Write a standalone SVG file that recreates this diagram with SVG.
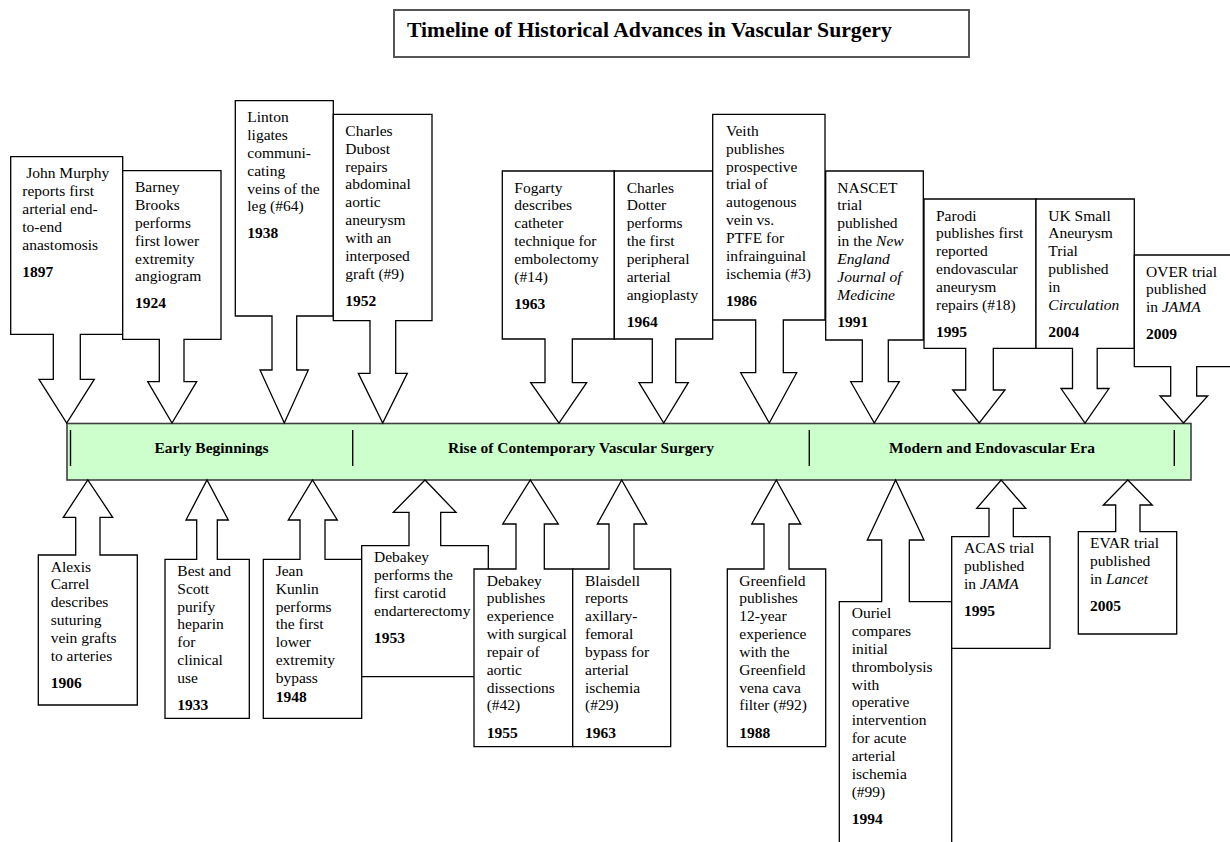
<svg xmlns="http://www.w3.org/2000/svg" width="1230" height="842" viewBox="0 0 1230 842">
<style>
.box{fill:#fff;stroke:#000;stroke-width:1.3}
.t{font-family:"Liberation Serif","Times New Roman",serif;font-size:15.5px;fill:#000}
.b{font-weight:bold}
.i{font-style:italic}
.tick{stroke:#000;stroke-width:1.4}
</style>
<rect width="1230" height="842" fill="#fff"/>
<g id="title">
<rect x="394" y="10" width="575" height="47" fill="#fff" stroke="#555" stroke-width="2"/>
<text x="407" y="37" class="t b" style="font-size:21.7px">Timeline of Historical Advances in Vascular Surgery</text>
</g>
<g id="timeline-bar">
<rect x="67" y="423.5" width="1124" height="56.5" fill="#ccffcc" stroke="#404040" stroke-width="1.6"/>
<line class="tick" x1="70.5" y1="430" x2="70.5" y2="466"/>
<line class="tick" x1="352.7" y1="430" x2="352.7" y2="466"/>
<line class="tick" x1="809.3" y1="430" x2="809.3" y2="466"/>
<line class="tick" x1="1174.3" y1="430" x2="1174.3" y2="466"/>
<text x="211.5" y="453.3" class="t b" text-anchor="middle">Early Beginnings</text>
<text x="581" y="453.3" class="t b" text-anchor="middle">Rise of Contemporary Vascular Surgery</text>
<text x="992" y="453.3" class="t b" text-anchor="middle">Modern and Endovascular Era</text>
</g>
<g id="connectors">
<path class="box" d="M10.7,156.7 H122.7 V334.3 H80.3 V379.3 H94.3 L66.7,423 L39,379.3 H53.3 V334.3 H10.7 Z"/>
<path class="box" d="M122.7,170.7 H221 V339.3 H184 V381.7 H196.7 L172,423 L147.7,381.7 H159.3 V339.3 H122.7 Z"/>
<path class="box" d="M235.3,100.7 H333.3 V316 H296.7 V370 H308.3 L284.3,423 L260,370 H272 V316 H235.3 Z"/>
<path class="box" d="M333.3,114.3 H432 V320.7 H395.7 V373.3 H407.3 L382.7,423 L358.3,373.3 H370 V320.7 H333.3 Z"/>
<path class="box" d="M502.3,171 H614.3 V339 H572.3 V382.7 H586.7 L559,423 L530.7,382.7 H545 V339 H502.3 Z"/>
<path class="box" d="M614.3,171 H712.7 V339 H675.7 V382.7 H688.3 L663.7,423 L639,382.7 H652.3 V339 H614.3 Z"/>
<path class="box" d="M712.7,114.3 H825 V320 H783.3 V372.7 H796.7 L769.3,423 L740.7,372.7 H755.7 V320 H712.7 Z"/>
<path class="box" d="M825.7,171 H923.3 V340 H888.3 V381.7 H899.3 L874.3,423 L850.7,381.7 H862.3 V340 H825.7 Z"/>
<path class="box" d="M924,199 H1036 V348.3 H993.3 V390 H1005 L979.3,423 L952.7,390 H965.7 V348.3 H924 Z"/>
<path class="box" d="M1036,199 H1134.3 V348.3 H1097.2 V388.5 H1109 L1085,423 L1061,388.5 H1072.5 V348.3 H1036 Z"/>
<path class="box" d="M1134.3,255 H1240 V366.7 H1196.7 V396 H1207.7 L1183.5,423 L1160,396 H1170.7 V366.7 H1134.3 Z"/>
<path class="box" d="M38.3,555 H75.7 V517.3 H63.3 L87.8,480 L112.7,517.3 H100 V555 H137.3 V705 H38.3 Z"/>
<path class="box" d="M165,559.3 H196.7 V520 H186 L207,480 L228.3,520 H217.3 V559.3 H249.3 V718.3 H165 Z"/>
<path class="box" d="M263.3,559.3 H300 V520 H288.3 L312.5,480 L337.3,520 H325 V559.3 H361.7 V718.3 H263.3 Z"/>
<path class="box" d="M361.7,545.7 H409 V512.3 H393.3 L425,480 L456,512.3 H440.7 V545.7 H488.3 V676.7 H361.7 Z"/>
<path class="box" d="M474,569 H516 V524 H502.7 L530.3,480 L558.3,524 H544.3 V569 H572.7 V746.7 H474 Z"/>
<path class="box" d="M572.7,569 H609 V524 H597.3 L621.7,480 L646.7,524 H634 V569 H670.7 V746.7 H572.7 Z"/>
<path class="box" d="M727.3,569 H764 V524 H751.7 L776.3,480 L800.7,524 H789 V569 H825.7 V746.7 H727.3 Z"/>
<path class="box" d="M839.3,601.7 H881.7 V540 H867.3 L895.6,480 L924,540 H909.3 V601.7 H951.7 V870 H839.3 Z"/>
<path class="box" d="M951.7,536.7 H989 V508.3 H976.7 L1001.2,480 L1025.7,508.3 H1013.3 V536.7 H1050 V648.3 H951.7 Z"/>
<path class="box" d="M1078.3,531.7 H1115.7 V505 H1103.3 L1127.8,480 L1152.3,505 H1140 V531.7 H1176.7 V634 H1078.3 Z"/>
</g>
<g id="n1897">
<text class="t" x="26.2" y="178.2">John Murphy<tspan x="22.3" dy="17.85">reports first</tspan><tspan x="22.3" dy="17.85">arterial end-</tspan><tspan x="22.3" dy="17.85">to-end</tspan><tspan x="22.3" dy="17.85">anastomosis</tspan></text>
<text class="t b" x="22.3" y="276.6">1897</text>
</g>
<g id="n1924">
<text class="t" x="135" y="192.2">Barney<tspan x="135" dy="17.85">Brooks</tspan><tspan x="135" dy="17.85">performs</tspan><tspan x="135" dy="17.85">first lower</tspan><tspan x="135" dy="17.85">extremity</tspan><tspan x="135" dy="17.85">angiogram</tspan></text>
<text class="t b" x="135" y="308.4">1924</text>
</g>
<g id="n1938">
<text class="t" x="247.3" y="122.2">Linton<tspan x="247.3" dy="17.85">ligates</tspan><tspan x="247.3" dy="17.85">communi-</tspan><tspan x="247.3" dy="17.85">cating</tspan><tspan x="247.3" dy="17.85">veins of the</tspan><tspan x="247.3" dy="17.85">leg (#64)</tspan></text>
<text class="t b" x="247.3" y="238.4">1938</text>
</g>
<g id="n1952">
<text class="t" x="345.3" y="135.8">Charles<tspan x="345.3" dy="17.85">Dubost</tspan><tspan x="345.3" dy="17.85">repairs</tspan><tspan x="345.3" dy="17.85">abdominal</tspan><tspan x="345.3" dy="17.85">aortic</tspan><tspan x="345.3" dy="17.85">aneurysm</tspan><tspan x="345.3" dy="17.85">with an</tspan><tspan x="345.3" dy="17.85">interposed</tspan><tspan x="345.3" dy="17.85">graft (#9)</tspan></text>
<text class="t b" x="345.3" y="306">1952</text>
</g>
<g id="n1963a">
<text class="t" x="514.3" y="192.5">Fogarty<tspan x="514.3" dy="17.85">describes</tspan><tspan x="514.3" dy="17.85">catheter</tspan><tspan x="514.3" dy="17.85">technique for</tspan><tspan x="514.3" dy="17.85">embolectomy</tspan><tspan x="514.3" dy="17.85">(#14)</tspan></text>
<text class="t b" x="514.3" y="308.7">1963</text>
</g>
<g id="n1964">
<text class="t" x="626.7" y="192.5">Charles<tspan x="626.7" dy="17.85">Dotter</tspan><tspan x="626.7" dy="17.85">performs</tspan><tspan x="626.7" dy="17.85">the first</tspan><tspan x="626.7" dy="17.85">peripheral</tspan><tspan x="626.7" dy="17.85">arterial</tspan><tspan x="626.7" dy="17.85">angioplasty</tspan></text>
<text class="t b" x="626.7" y="326.6">1964</text>
</g>
<g id="n1986">
<text class="t" x="726" y="135.8">Veith<tspan x="726" dy="17.85">publishes</tspan><tspan x="726" dy="17.85">prospective</tspan><tspan x="726" dy="17.85">trial of</tspan><tspan x="726" dy="17.85">autogenous</tspan><tspan x="726" dy="17.85">vein vs.</tspan><tspan x="726" dy="17.85">PTFE for</tspan><tspan x="726" dy="17.85">infrainguinal</tspan><tspan x="726" dy="17.85">ischemia (#3)</tspan></text>
<text class="t b" x="726" y="306">1986</text>
</g>
<g id="n1991">
<text class="t" x="837.3" y="192.5">NASCET<tspan x="837.3" dy="17.85">trial</tspan><tspan x="837.3" dy="17.85">published</tspan><tspan x="837.3" dy="17.85">in the <tspan class="i">New</tspan></tspan><tspan x="837.3" dy="17.85" class="i">England</tspan><tspan x="837.3" dy="17.85" class="i">Journal of</tspan><tspan x="837.3" dy="17.85" class="i">Medicine</tspan></text>
<text class="t b" x="837.3" y="326.6">1991</text>
</g>
<g id="n1995a">
<text class="t" x="936" y="220.5">Parodi<tspan x="936" dy="17.85">publishes first</tspan><tspan x="936" dy="17.85">reported</tspan><tspan x="936" dy="17.85">endovascular</tspan><tspan x="936" dy="17.85">aneurysm</tspan><tspan x="936" dy="17.85">repairs (#18)</tspan></text>
<text class="t b" x="936" y="336.7">1995</text>
</g>
<g id="n2004">
<text class="t" x="1048.3" y="220.5">UK Small<tspan x="1048.3" dy="17.85">Aneurysm</tspan><tspan x="1048.3" dy="17.85">Trial</tspan><tspan x="1048.3" dy="17.85">published</tspan><tspan x="1048.3" dy="17.85">in</tspan><tspan x="1048.3" dy="17.85" class="i">Circulation</tspan></text>
<text class="t b" x="1048.3" y="336.7">2004</text>
</g>
<g id="n2009">
<text class="t" x="1146" y="276.5">OVER trial<tspan x="1146" dy="17.85">published</tspan><tspan x="1146" dy="17.85">in <tspan class="i">JAMA</tspan></tspan></text>
<text class="t b" x="1146" y="339.2">2009</text>
</g>
<g id="n1906">
<text class="t" x="50.7" y="571.5">Alexis<tspan x="50.7" dy="17.85">Carrel</tspan><tspan x="50.7" dy="17.85">describes</tspan><tspan x="50.7" dy="17.85">suturing</tspan><tspan x="50.7" dy="17.85">vein grafts</tspan><tspan x="50.7" dy="17.85">to arteries</tspan></text>
<text class="t b" x="50.7" y="687.8">1906</text>
</g>
<g id="n1933">
<text class="t" x="177.3" y="575.8">Best and<tspan x="177.3" dy="17.85">Scott</tspan><tspan x="177.3" dy="17.85">purify</tspan><tspan x="177.3" dy="17.85">heparin</tspan><tspan x="177.3" dy="17.85">for</tspan><tspan x="177.3" dy="17.85">clinical</tspan><tspan x="177.3" dy="17.85">use</tspan></text>
<text class="t b" x="177.3" y="709.9">1933</text>
</g>
<g id="n1948">
<text class="t" x="275.7" y="575.8">Jean<tspan x="275.7" dy="17.85">Kunlin</tspan><tspan x="275.7" dy="17.85">performs</tspan><tspan x="275.7" dy="17.85">the first</tspan><tspan x="275.7" dy="17.85">lower</tspan><tspan x="275.7" dy="17.85">extremity</tspan><tspan x="275.7" dy="17.85">bypass</tspan></text>
<text class="t b" x="275.7" y="701.9">1948</text>
</g>
<g id="n1953">
<text class="t" x="374" y="562.2">Debakey<tspan x="374" dy="17.85">performs the</tspan><tspan x="374" dy="17.85">first carotid</tspan><tspan x="374" dy="17.85">endarterectomy</tspan></text>
<text class="t b" x="374" y="642.8">1953</text>
</g>
<g id="n1955">
<text class="t" x="486.7" y="585.5">Debakey<tspan x="486.7" dy="17.85">publishes</tspan><tspan x="486.7" dy="17.85">experience</tspan><tspan x="486.7" dy="17.85">with surgical</tspan><tspan x="486.7" dy="17.85">repair of</tspan><tspan x="486.7" dy="17.85">aortic</tspan><tspan x="486.7" dy="17.85">dissections</tspan><tspan x="486.7" dy="17.85">(#42)</tspan></text>
<text class="t b" x="486.7" y="737.5">1955</text>
</g>
<g id="n1963b">
<text class="t" x="585" y="585.5">Blaisdell<tspan x="585" dy="17.85">reports</tspan><tspan x="585" dy="17.85">axillary-</tspan><tspan x="585" dy="17.85">femoral</tspan><tspan x="585" dy="17.85">bypass for</tspan><tspan x="585" dy="17.85">arterial</tspan><tspan x="585" dy="17.85">ischemia</tspan><tspan x="585" dy="17.85">(#29)</tspan></text>
<text class="t b" x="585" y="737.5">1963</text>
</g>
<g id="n1988">
<text class="t" x="739.3" y="585.5">Greenfield<tspan x="739.3" dy="17.85">publishes</tspan><tspan x="739.3" dy="17.85">12-year</tspan><tspan x="739.3" dy="17.85">experience</tspan><tspan x="739.3" dy="17.85">with the</tspan><tspan x="739.3" dy="17.85">Greenfield</tspan><tspan x="739.3" dy="17.85">vena cava</tspan><tspan x="739.3" dy="17.85">filter (#92)</tspan></text>
<text class="t b" x="739.3" y="737.5">1988</text>
</g>
<g id="n1994">
<text class="t" x="851.7" y="618.2">Ouriel<tspan x="851.7" dy="17.85">compares</tspan><tspan x="851.7" dy="17.85">initial</tspan><tspan x="851.7" dy="17.85">thrombolysis</tspan><tspan x="851.7" dy="17.85">with</tspan><tspan x="851.7" dy="17.85">operative</tspan><tspan x="851.7" dy="17.85">intervention</tspan><tspan x="851.7" dy="17.85">for acute</tspan><tspan x="851.7" dy="17.85">arterial</tspan><tspan x="851.7" dy="17.85">ischemia</tspan><tspan x="851.7" dy="17.85">(#99)</tspan></text>
<text class="t b" x="851.7" y="824">1994</text>
</g>
<g id="n1995b">
<text class="t" x="964" y="553.2">ACAS trial<tspan x="964" dy="17.85">published</tspan><tspan x="964" dy="17.85">in <tspan class="i">JAMA</tspan></tspan></text>
<text class="t b" x="964" y="615.9">1995</text>
</g>
<g id="n2005">
<text class="t" x="1090" y="548.2">EVAR trial<tspan x="1090" dy="17.85">published</tspan><tspan x="1090" dy="17.85">in <tspan class="i">Lancet</tspan></tspan></text>
<text class="t b" x="1090" y="610.9">2005</text>
</g>
</svg>
